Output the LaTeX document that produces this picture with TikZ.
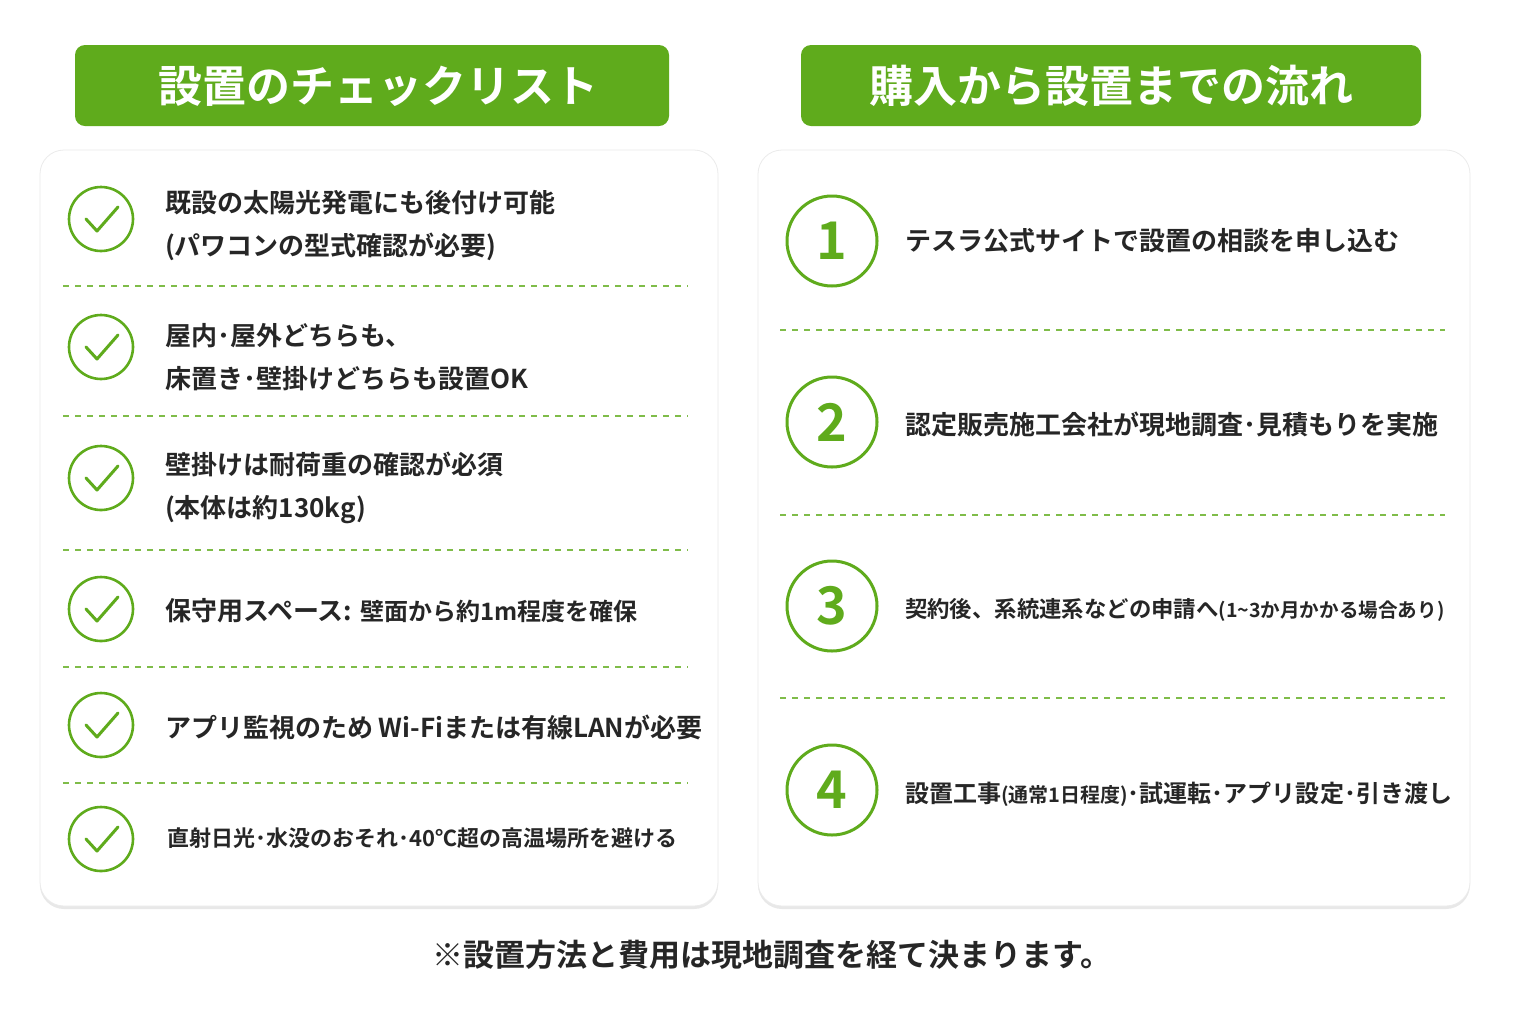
\documentclass[tikz,border=0pt]{standalone}
\usepackage{fontspec}
\setmainfont{Noto Sans CJK JP}[BoldFont={* Bold}]
\usetikzlibrary{shadows}
\definecolor{leaf}{HTML}{5FAB1C}
\tikzset{
  card/.style={draw=black!8, fill=white, rounded corners=12pt, drop shadow={opacity=0.18, shadow xshift=0pt, shadow yshift=-1.5pt}},
  bar/.style={fill=leaf, rounded corners=5pt},
  ttl/.style={text=white, font=\bfseries\fontsize{22}{25}\selectfont},
  chk/.style={circle, draw=leaf, line width=1.3pt, minimum size=32pt, inner sep=0},
  num/.style={circle, draw=leaf, line width=1.5pt, minimum size=45pt, inner sep=0, text=leaf, font=\bfseries\fontsize{26}{28}\selectfont},
  sep/.style={draw=leaf!80, dashed, dash pattern=on 3pt off 3pt, line width=0.6pt},
  txt/.style={anchor=west, font=\bfseries\fontsize{13}{21.5}\selectfont, text=black!85, align=left}
}
\begin{document}
\begin{tikzpicture}[x=0.5pt, y=-0.5pt]
  \useasboundingbox[fill=white] (0,0) rectangle (1536,1024);
  % title bars
  \fill[bar] (75,45) rectangle (669,126);
  \node[ttl] (t1) at (378,86) {設置のチェックリスト};
  \fill[bar] (801,45) rectangle (1421,126);
  \node[ttl] (t2) at (1111,86) {購入から設置までの流れ};
  % cards
  \path[card] (40,150) rectangle (718,906);
  \path[card] (758,150) rectangle (1470,906);
  % left checklist
  \foreach \i/\y in {1/219,2/347,3/478,4/609,5/725,6/839} {
    \node[chk] (c\i) at (101,\y) {};
    \draw[leaf, line width=1.5pt, line cap=round, line join=round]
      ([shift={(-15,0)}]c\i.center) -- ++(11,12) -- ++(21,-24);
  }
  \foreach \y in {286,416,550,667,783}
    \draw[sep] (63,\y) -- (688,\y);
  \node[txt] (l1) at (158,226) {既設の太陽光発電にも後付け可能\\(パワコンの型式確認が必要)};
  \node[txt] (l2) at (158,357) {屋内･屋外どちらも、\\床置き･壁掛けどちらも設置OK};
  \node[txt] (l3) at (158,488) {壁掛けは耐荷重の確認が必須\\(本体は約130kg)};
  \node[txt] (l4) at (158,611) {保守用スペース: {\fontsize{12}{14}\selectfont 壁面から約1m程度を確保}};
  \node[txt] (l5) at (158,727) {アプリ監視のため Wi-Fiまたは有線LANが必要};
  \node[txt, font=\bfseries\fontsize{11}{14}\selectfont] (l6) at (160,838) {直射日光･水没のおそれ･40℃超の高温場所を避ける};
  % right flow
  \foreach \i/\y in {1/241,2/422,3/606,4/790}
    \node[num] (n\i) at (832,\y) {\i};
  \foreach \y in {330,515,698}
    \draw[sep] (780,\y) -- (1445,\y);
  \node[txt] (r1) at (898,241) {テスラ公式サイトで設置の相談を申し込む};
  \node[txt] (r2) at (898,424) {認定販売施工会社が現地調査･見積もりを実施};
  \node[txt, font=\bfseries\fontsize{11.2}{14}\selectfont] (r3) at (898,610) {契約後、系統連系などの申請へ{\fontsize{9.8}{12}\selectfont (1\textasciitilde 3か月かかる場合あり)}};
  \node[txt, font=\bfseries\fontsize{12}{14}\selectfont] (r4) at (898,794) {設置工事{\fontsize{10}{12}\selectfont (通常1日程度)}･試運転･アプリ設定･引き渡し};
  % footnote
  \node[font=\bfseries\fontsize{15.5}{18}\selectfont, text=black!85] (fn) at (772,955) {※設置方法と費用は現地調査を経て決まります。};
\end{tikzpicture}
\end{document}
